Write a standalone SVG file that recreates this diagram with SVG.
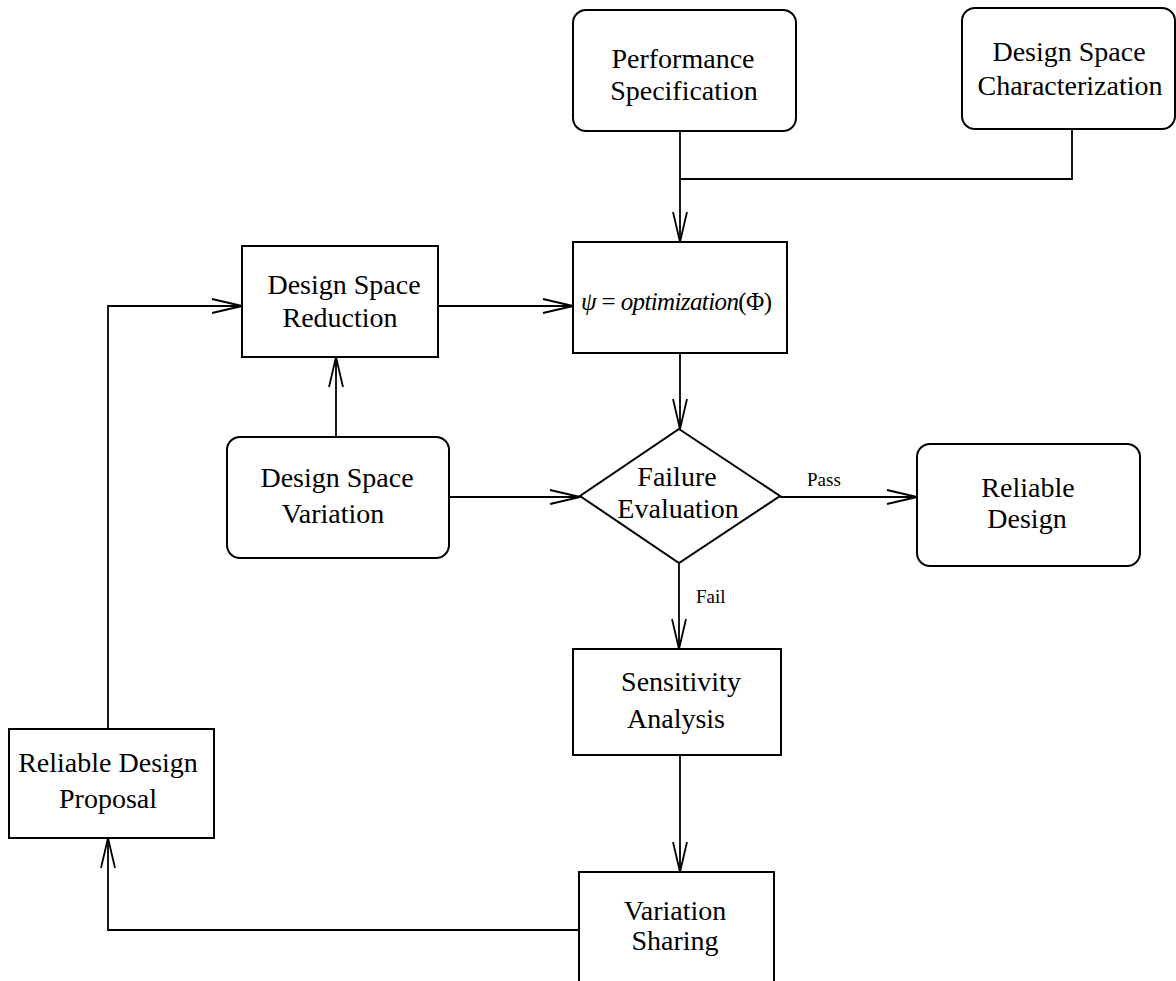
<svg xmlns="http://www.w3.org/2000/svg" width="1176" height="981" viewBox="0 0 1176 981">
<style>
.box{fill:#fff;stroke:#000;stroke-width:2}
.ln{fill:none;stroke:#000;stroke-width:1.8}
.t{font-family:"Liberation Serif","Times New Roman",serif;font-size:28px;fill:#000;text-anchor:middle}
.lbl{font-family:"Liberation Serif","Times New Roman",serif;font-size:19px;fill:#000}
.m{font-family:"Liberation Serif","Times New Roman",serif;font-size:25px;fill:#000}
</style>
<defs>
<marker id="arr" markerUnits="userSpaceOnUse" markerWidth="34" markerHeight="18" refX="31" refY="8" orient="auto" overflow="visible">
<path d="M1,1 L31,8 L1,15" fill="none" stroke="#000" stroke-width="1.8"/>
</marker>
</defs>
<rect width="1176" height="981" fill="#fff"/>
<g id="connectors">
<path class="ln" d="M680,131 V242" marker-end="url(#arr)"/>
<path class="ln" d="M1072,129 V179 H680"/>
<path class="ln" d="M438,306 H573" marker-end="url(#arr)"/>
<path class="ln" d="M680,353 V429" marker-end="url(#arr)"/>
<path class="ln" d="M336,437 V357" marker-end="url(#arr)"/>
<path class="ln" d="M449,497 H580" marker-end="url(#arr)"/>
<path class="ln" d="M780,497 H917" marker-end="url(#arr)"/>
<path class="ln" d="M679,563 V649" marker-end="url(#arr)"/>
<path class="ln" d="M680,755 V872" marker-end="url(#arr)"/>
<path class="ln" d="M579,930 H108 V838" marker-end="url(#arr)"/>
<path class="ln" d="M108,729 V306 H242" marker-end="url(#arr)"/>
<text class="lbl" x="807" y="486">Pass</text>
<text class="lbl" x="696" y="603">Fail</text>
</g>
<g id="performance-specification">
<rect class="box" x="573" y="10" width="223" height="121" rx="13"/>
<text class="t" x="683" y="68">Performance</text>
<text class="t" x="684" y="100">Specification</text>
</g>
<g id="design-space-characterization">
<rect class="box" x="962" y="8" width="213" height="121" rx="13"/>
<text class="t" x="1069" y="61">Design Space</text>
<text class="t" x="1070" y="95">Characterization</text>
</g>
<g id="optimization">
<rect class="box" x="573" y="242" width="214" height="111"/>
<text class="m" x="581" y="310" textLength="191" lengthAdjust="spacing"><tspan font-style="italic">ψ</tspan> = <tspan font-style="italic">optimization</tspan>(Φ)</text>
</g>
<g id="design-space-reduction">
<rect class="box" x="242" y="246" width="196" height="111"/>
<text class="t" x="344" y="294">Design Space</text>
<text class="t" x="340" y="327">Reduction</text>
</g>
<g id="design-space-variation">
<rect class="box" x="227" y="437" width="222" height="121" rx="13"/>
<text class="t" x="337" y="487">Design Space</text>
<text class="t" x="333" y="523">Variation</text>
</g>
<g id="failure-evaluation">
<polygon class="box" points="679,429 780,496 679,563 580,496"/>
<text class="t" x="677" y="486">Failure</text>
<text class="t" x="678" y="518">Evaluation</text>
</g>
<g id="reliable-design">
<rect class="box" x="917" y="444" width="223" height="122" rx="13"/>
<text class="t" x="1028" y="497">Reliable</text>
<text class="t" x="1027" y="528">Design</text>
</g>
<g id="sensitivity-analysis">
<rect class="box" x="573" y="649" width="208" height="106"/>
<text class="t" x="681" y="691">Sensitivity</text>
<text class="t" x="676" y="728">Analysis</text>
</g>
<g id="variation-sharing">
<rect class="box" x="579" y="872" width="195" height="130"/>
<text class="t" x="675" y="920">Variation</text>
<text class="t" x="675" y="950">Sharing</text>
</g>
<g id="reliable-design-proposal">
<rect class="box" x="9" y="729" width="205" height="109"/>
<text class="t" x="108" y="772">Reliable Design</text>
<text class="t" x="108" y="808">Proposal</text>
</g>
</svg>
